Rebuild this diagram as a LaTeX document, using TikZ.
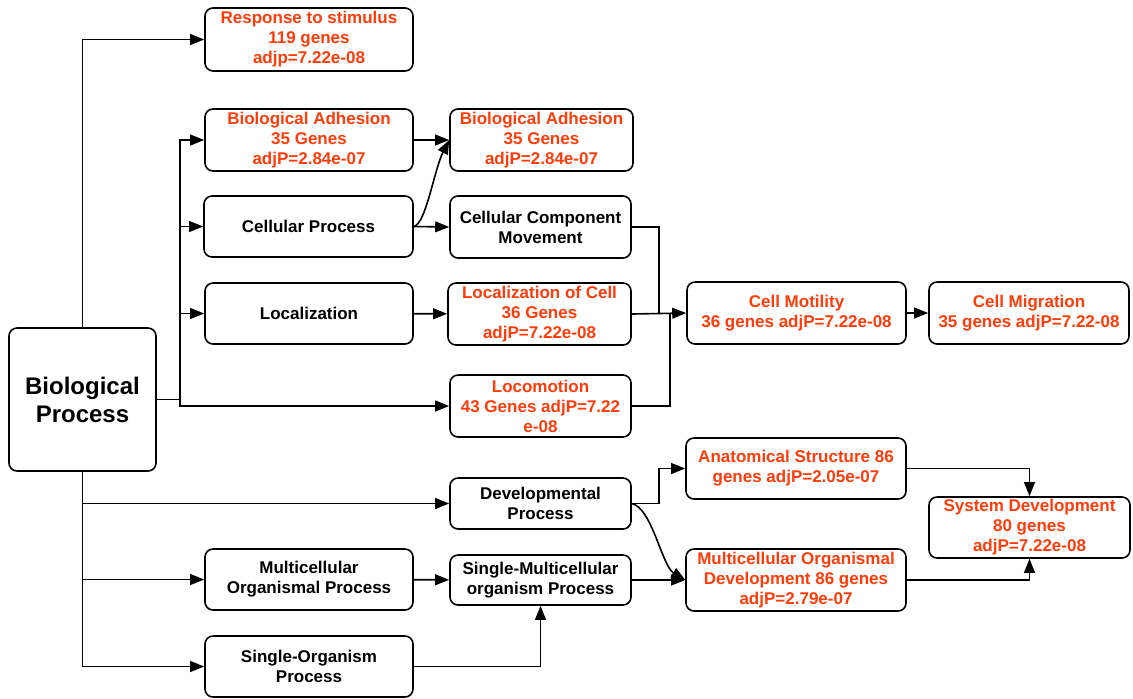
\documentclass[tikz,border=0pt]{standalone}
\usepackage{fontspec}
\setmainfont{Liberation Sans}
\usetikzlibrary{arrows.meta}
\definecolor{hired}{RGB}{255,60,10}
\begin{document}
\begin{tikzpicture}[x=0.5pt,y=-0.5pt,
  box/.style={draw, rounded corners=4pt, line width=0.8pt, align=center, inner sep=0pt,
    font=\bfseries\fontsize{8.5}{10}\selectfont},
  hot/.style={text=hired},
  ln/.style={line width=0.8pt},
  arr/.style={line width=0.8pt, -{Triangle[length=7pt,width=5.4pt]}}]
\useasboundingbox (0,0) rectangle (1133,698);
% nodes
\node[box, minimum width=73.5pt, minimum height=71.5pt, font=\bfseries\fontsize{12}{14}\selectfont] (bp) at (82.5,399.5) {Biological\\Process};
\node[box, hot, minimum width=104pt, minimum height=31.5pt] (resp) at (309,39.5) {Response to stimulus\\119 genes\\adjp=7.22e-08};
\node[box, hot, minimum width=104pt, minimum height=31pt] (ba1) at (309,140) {Biological Adhesion\\35 Genes\\adjP=2.84e-07};
\node[box, minimum width=104.5pt, minimum height=30.5pt] (cp) at (308.5,226.5) {Cellular Process};
\node[box, minimum width=104pt, minimum height=30.5pt] (loc) at (309,313.5) {Localization};
\node[box, minimum width=104pt, minimum height=30.5pt] (mop) at (309,579.5) {Multicellular\\Organismal Process};
\node[box, minimum width=104pt, minimum height=30.5pt] (sop) at (309,666.5) {Single-Organism\\Process};
\node[box, hot, minimum width=91.5pt, minimum height=31pt] (ba2) at (541.5,140) {Biological Adhesion\\35 Genes\\adjP=2.84e-07};
\node[box, minimum width=90.5pt, minimum height=31pt] (ccm) at (540.5,227) {Cellular Component\\Movement};
\node[box, hot, minimum width=91.5pt, minimum height=31pt] (locc) at (539.5,314) {Localization of Cell\\36 Genes\\adjP=7.22e-08};
\node[box, hot, minimum width=90.5pt, minimum height=31pt] (loco) at (540.5,406) {Locomotion\\43 Genes adjP=7.22\\e-08};
\node[box, minimum width=90.5pt, minimum height=25.5pt] (dev) at (540.5,503.5) {Developmental\\Process};
\node[box, minimum width=90.5pt, minimum height=25pt] (smp) at (540.5,580) {Single-Multicellular\\organism Process};
\node[box, hot, minimum width=109.5pt, minimum height=31pt] (cmot) at (796.5,313) {Cell Motility\\36 genes adjP=7.22e-08};
\node[box, hot, minimum width=100pt, minimum height=31pt] (cmig) at (1029,313) {Cell Migration\\35 genes adjP=7.22-08};
\node[box, hot, minimum width=110pt, minimum height=30.5pt] (anat) at (796,468.5) {Anatomical Structure 86\\genes adjP=2.05e-07};
\node[box, hot, minimum width=110pt, minimum height=31pt] (mod) at (796,580) {Multicellular Organismal\\Development 86 genes\\adjP=2.79e-07};
\node[box, hot, minimum width=100.5pt, minimum height=30.5pt] (sysd) at (1029.5,527.5) {System Development\\80 genes\\adjP=7.22e-08};
% junctions
\coordinate (j1) at (180,399.5);
\coordinate (m1) at (659,313);
\coordinate (m2) at (670,313);
\coordinate (d1) at (659,503.5);
% connectors
\draw[arr] (bp.north) |- (resp.west);
\draw[ln] (bp.east) -- (j1);
\draw[arr] (j1) |- (ba1.west);
\draw[arr] (j1) |- (cp.west);
\draw[arr] (j1) |- (loc.west);
\draw[arr] (j1) |- (loco.west);
\draw[arr] (bp.south) |- (dev.west);
\draw[arr] (bp.south) |- (mop.west);
\draw[arr] (bp.south) |- (sop.west);
\draw[arr] (ba1) -- (ba2);
\draw[arr] (cp.east) .. controls (426,224) and (434,170) .. (ba2.west);
\draw[arr] (cp.east) -- (ccm.west);
\draw[arr] (loc) -- (locc);
\draw[ln] (ccm.east) -| (m1);
\draw[ln] (loco.east) -| (m2);
\draw[arr] (locc.east) -- (cmot.west);
\draw[arr] (cmot) -- (cmig);
\draw[ln] (dev.east) -- (d1);
\draw[arr] (d1) |- (anat.west);
\draw[arr] (dev.east) .. controls (652,508) and (662,566) .. (mod.west);
\draw[arr] (mop) -- (smp);
\draw[arr] (sop.east) -| (smp.south);
\draw[arr] (smp) -- (mod);
\draw[arr] (anat.east) -| (sysd.north);
\draw[arr] (mod.east) -| (sysd.south);
\end{tikzpicture}
\end{document}
